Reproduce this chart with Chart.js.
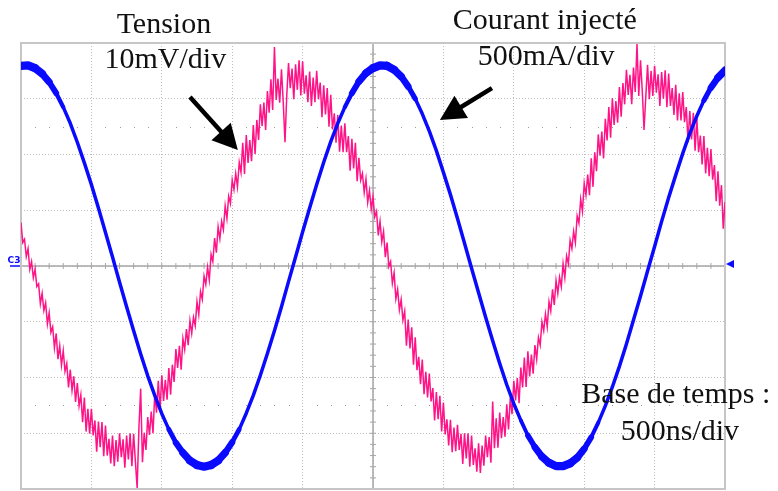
<!DOCTYPE html>
<html lang="fr">
<head>
<meta charset="utf-8">
<script src="https://cdn.jsdelivr.net/npm/chart.js@4.4.1/dist/chart.umd.min.js"></script>
<style>
  html, body { margin: 0; padding: 0; background: #fff; }
  #cadre { width: 778px; height: 491px; }
</style>
</head>
<body>
<div id="cadre"><canvas id="oscillo" width="778" height="491"></canvas></div>
<script>
// Capture d'oscilloscope : courant injecté (voie C3, bleu) et tension (rose)
// Les deux axes sont exprimés en divisions : 10 div en temps, 8 div en amplitude.
const nbDivX = 10;
const nbDivY = 4;              // de -4 à +4 div
const pasCourant = 0.1;        // div entre deux échantillons du courant
const pasTension = 0.025;      // div entre deux échantillons de la tension

const courant = [
  3.59, 3.60, 3.55, 3.45, 3.30, 3.10, 2.85, 2.56, 2.22, 1.85,
  1.46, 1.04, 0.60, 0.16, -0.29, -0.73, -1.16, -1.58, -1.97, -2.32,
  -2.65, -2.93, -3.17, -3.35, -3.49, -3.57, -3.60, -3.57, -3.49, -3.35,
  -3.16, -2.93, -2.64, -2.32, -1.96, -1.57, -1.16, -0.73, -0.28, 0.16,
  0.61, 1.04, 1.46, 1.86, 2.23, 2.56, 2.85, 3.10, 3.31, 3.46,
  3.55, 3.60, 3.59, 3.52, 3.40, 3.22, 3.00, 2.73, 2.42, 2.07,
  1.68, 1.28, 0.85, 0.41, -0.04, -0.48, -0.92, -1.34, -1.75, -2.13,
  -2.47, -2.77, -3.04, -3.25, -3.42, -3.53, -3.59, -3.59, -3.54, -3.44,
  -3.28, -3.07, -2.81, -2.51, -2.17, -1.80, -1.40, -0.97, -0.54, -0.09,
  0.35, 0.80, 1.23, 1.63, 2.02, 2.38, 2.69, 2.97, 3.20, 3.38,
  3.51
];

const tension = [
  0.78, 0.42, 0.48, 0.17, 0.31, -0.06, 0.08, -0.21, -0.06, -0.37,
  -0.32, -0.68, -0.49, -0.80, -0.66, -1.04, -0.84, -1.19, -1.09, -1.47,
  -1.21, -1.67, -1.43, -1.78, -1.52, -1.89, -1.75, -2.18, -1.86, -2.23,
  -1.98, -2.44, -2.10, -2.51, -2.31, -2.80, -2.36, -2.97, -2.56, -3.01,
  -2.56, -3.04, -2.77, -3.33, -2.79, -3.25, -2.80, -3.41, -2.86, -3.40,
  -3.10, -3.54, -3.04, -3.59, -3.12, -3.51, -3.00, -3.43, -3.11, -3.62,
  -3.04, -3.47, -3.00, -3.59, -3.01, -3.51, -3.98, -2.90, -2.20, -3.52,
  -2.99, -3.30, -2.71, -3.03, -2.61, -3.00, -2.29, -2.63, -2.06, -2.59,
  -1.96, -2.42, -2.04, -2.40, -1.83, -2.31, -1.77, -2.08, -1.49, -1.83,
  -1.43, -1.86, -1.30, -1.50, -1.13, -1.42, -0.98, -1.21, -0.92, -1.07,
  -0.64, -0.87, -0.46, -0.60, -0.18, -0.33, -0.02, -0.25, 0.21, 0.08,
  0.50, 0.24, 0.70, 0.49, 0.80, 0.65, 1.08, 0.85, 1.25, 1.12,
  1.54, 1.37, 1.66, 1.42, 1.86, 1.68, 2.21, 1.65, 2.35, 1.85,
  2.26, 1.88, 2.53, 2.01, 2.62, 2.26, 2.90, 2.51, 2.93, 2.44,
  3.14, 2.75, 3.35, 2.80, 3.93, 2.98, 3.36, 2.93, 3.53, 2.94,
  2.22, 3.06, 3.64, 3.19, 3.54, 2.99, 3.62, 3.16, 3.69, 3.06,
  3.67, 3.09, 3.42, 2.94, 3.49, 2.87, 3.38, 2.94, 3.50, 2.99,
  3.29, 2.67, 3.24, 2.72, 3.19, 2.50, 3.07, 2.45, 2.74, 2.21,
  2.71, 2.05, 2.52, 2.04, 2.56, 2.04, 2.33, 1.71, 2.28, 1.75,
  2.21, 1.52, 1.94, 1.54, 1.66, 1.32, 1.56, 1.14, 1.35, 1.02,
  1.24, 0.88, 0.98, 0.55, 0.80, 0.43, 0.62, 0.16, 0.42, -0.01,
  0.08, -0.31, -0.12, -0.59, -0.42, -0.79, -0.60, -0.97, -0.81, -1.43,
  -0.96, -1.48, -1.10, -1.77, -1.28, -1.87, -1.63, -2.12, -1.68, -2.30,
  -1.90, -2.36, -1.93, -2.43, -2.19, -2.77, -2.26, -2.75, -2.33, -2.97,
  -2.45, -3.02, -2.75, -3.22, -2.76, -3.34, -2.90, -3.32, -2.85, -3.30,
  -3.01, -3.55, -3.00, -3.45, -3.00, -3.60, -3.04, -3.57, -3.27, -3.69,
  -3.18, -3.71, -3.22, -3.58, -3.04, -3.43, -3.07, -3.53, -2.43, -3.27,
  -2.73, -3.26, -2.63, -3.09, -2.71, -3.06, -2.48, -2.93, -2.36, -2.66,
  -2.06, -2.41, -2.01, -2.46, -1.82, -2.18, -1.64, -2.17, -1.53, -1.98,
  -1.59, -1.93, -1.42, -1.67, -1.28, -1.42, -1.00, -1.16, -0.86, -1.09,
  -0.64, -0.81, -0.42, -0.70, -0.26, -0.49, -0.20, -0.37, 0.04, -0.21,
  0.18, 0.04, 0.46, 0.31, 0.62, 0.42, 0.90, 0.77, 1.20, 0.98,
  1.48, 1.27, 1.64, 1.27, 1.93, 1.42, 2.04, 1.70, 2.36, 1.98,
  2.41, 1.93, 2.64, 2.25, 2.85, 2.30, 3.01, 2.53, 2.96, 2.57,
  3.21, 2.68, 3.28, 2.90, 3.52, 3.07, 3.43, 2.90, 3.56, 3.12,
  3.98, 3.05, 3.69, 3.14, 2.44, 3.04, 3.61, 2.99, 3.50, 3.05,
  3.59, 3.11, 3.44, 2.87, 3.48, 3.00, 3.51, 2.85, 3.45, 2.87,
  3.19, 2.71, 3.25, 2.61, 3.10, 2.61, 3.12, 2.58, 2.85, 2.22,
  2.78, 2.27, 2.75, 2.07, 2.65, 2.04, 2.34, 1.82, 2.33, 1.66,
  2.12, 1.61, 2.10, 1.55, 1.81, 1.16, 1.70, 1.08, 1.45, 0.67,
  1.15
];

// Légendes écrites sur la capture (position en divisions)
const legendes = [
  { texte: 'Tension',          x: 2.03, y: 4.18 },
  { texte: '10mV/div',         x: 2.05, y: 3.55 },
  { texte: 'Courant injecté',  x: 7.44, y: 4.25 },
  { texte: '500mA/div',        x: 7.46, y: 3.61 },
  { texte: 'Base de temps :',  x: 9.30, y: -2.46 },
  { texte: '500ns/div',        x: 9.36, y: -3.12 }
];

// Flèches : départ -> pointe (en divisions)
const fleches = [
  { de: [2.40, 3.03], a: [3.08, 2.08] },
  { de: [6.69, 3.19], a: [5.95, 2.62] }
];

const BLEU = '#0a0aff';
const ROSE = 'rgb(255, 20, 135)';

function versPoints(valeurs, pas) {
  return valeurs.map((v, i) => ({ x: +(i * pas).toFixed(3), y: v }));
}

// Réticule, cadre, textes et repères de voie
const habillage = {
  id: 'habillage',
  beforeDatasetsDraw(chart) {
    const { ctx, chartArea: zone, scales: { x, y } } = chart;
    ctx.save();

    // rangées de points à ±2.5 div
    ctx.fillStyle = '#9a9a9a';
    [2.5, -2.5].forEach(v => {
      const py = Math.round(y.getPixelForValue(v));
      for (let k = 1; k < nbDivX * 5; k++) {
        if (k % 5 === 0) continue;
        ctx.fillRect(Math.round(x.getPixelForValue(k * 0.2)), py, 1, 1);
      }
    });

    // axes centraux gradués
    const cx = x.getPixelForValue(nbDivX / 2);
    const cy = y.getPixelForValue(0);
    ctx.strokeStyle = '#a6a6a6';
    ctx.lineWidth = 1.5;
    ctx.beginPath();
    ctx.moveTo(zone.left, cy); ctx.lineTo(zone.right, cy);
    ctx.moveTo(cx, zone.top); ctx.lineTo(cx, zone.bottom);
    ctx.stroke();

    ctx.lineWidth = 1;
    ctx.beginPath();
    for (let k = 1; k < nbDivX * 5; k++) {
      const px = x.getPixelForValue(k * 0.2);
      ctx.moveTo(px, cy - 3); ctx.lineTo(px, cy + 3);
    }
    for (let k = 1; k < nbDivY * 10; k++) {
      const py = y.getPixelForValue(-nbDivY + k * 0.2);
      ctx.moveTo(cx - 3, py); ctx.lineTo(cx + 3, py);
    }
    ctx.stroke();

    // cadre
    ctx.strokeStyle = '#c6c6c6';
    ctx.lineWidth = 2;
    ctx.strokeRect(zone.left, zone.top, zone.right - zone.left, zone.bottom - zone.top);
    ctx.restore();
  },
  afterDatasetsDraw(chart) {
    const { ctx, chartArea: zone, scales: { x, y } } = chart;
    ctx.save();

    // repère de voie C3 à gauche et marqueur de déclenchement à droite
    const cy = y.getPixelForValue(0);
    ctx.fillStyle = BLEU;
    ctx.strokeStyle = BLEU;
    ctx.font = 'bold 9px "DejaVu Sans", sans-serif';
    ctx.textAlign = 'center';
    ctx.textBaseline = 'alphabetic';
    ctx.fillText('C3', 14, cy - 3);
    ctx.lineWidth = 1.5;
    ctx.beginPath();
    ctx.moveTo(10, cy); ctx.lineTo(zone.left - 1, cy);
    ctx.stroke();

    ctx.beginPath();
    ctx.moveTo(zone.right + 1, cy - 2);
    ctx.lineTo(zone.right + 9, cy - 6);
    ctx.lineTo(zone.right + 9, cy + 2);
    ctx.closePath();
    ctx.fill();

    // flèches
    ctx.fillStyle = '#000';
    ctx.strokeStyle = '#000';
    fleches.forEach(f => {
      const x0 = x.getPixelForValue(f.de[0]), y0 = y.getPixelForValue(f.de[1]);
      const x1 = x.getPixelForValue(f.a[0]), y1 = y.getPixelForValue(f.a[1]);
      const ang = Math.atan2(y1 - y0, x1 - x0);
      const long = 25, demi = 13;
      const bx = x1 - long * Math.cos(ang), by = y1 - long * Math.sin(ang);
      ctx.lineWidth = 4.5;
      ctx.lineCap = 'butt';
      ctx.beginPath();
      ctx.moveTo(x0, y0); ctx.lineTo(bx + 3 * Math.cos(ang), by + 3 * Math.sin(ang));
      ctx.stroke();
      ctx.beginPath();
      ctx.moveTo(x1, y1);
      ctx.lineTo(bx + demi * Math.sin(ang), by - demi * Math.cos(ang));
      ctx.lineTo(bx - demi * Math.sin(ang), by + demi * Math.cos(ang));
      ctx.closePath();
      ctx.fill();
    });

    // textes
    ctx.fillStyle = '#111';
    ctx.font = '30px "Liberation Serif", "DejaVu Serif", serif';
    ctx.textAlign = 'center';
    ctx.textBaseline = 'alphabetic';
    legendes.forEach(l => {
      ctx.fillText(l.texte, x.getPixelForValue(l.x), y.getPixelForValue(l.y));
    });
    ctx.restore();
  }
};

const grille = {
  color: '#bdbdbd',
  lineWidth: 1,
  drawTicks: false
};

new Chart(document.getElementById('oscillo'), {
  type: 'line',
  data: {
    datasets: [
      {
        label: 'Courant injecté',
        data: versPoints(courant, pasCourant),
        borderColor: BLEU,
        borderWidth: 3.5,
        borderCapStyle: 'round',
        borderJoinStyle: 'round',
        pointRadius: 0,
        tension: 0,
        order: 0,
        segment: {
          // trace plus épaisse (bruit) aux sommets
          borderWidth: c => {
            const a = Math.max(Math.abs(c.p0.parsed.y), Math.abs(c.p1.parsed.y));
            return a > 3 ? 3.5 + (a - 3) * 8 : 3.5;
          }
        }
      },
      {
        label: 'Tension',
        data: versPoints(tension, pasTension),
        borderColor: ROSE,
        borderWidth: 1.5,
        pointRadius: 0,
        tension: 0,
        order: 1
      }
    ]
  },
  options: {
    responsive: false,
    animation: false,
    events: [],
    layout: { padding: { left: 21, right: 53, top: 43, bottom: 2 } },
    plugins: {
      legend: { display: false },
      tooltip: { enabled: false }
    },
    scales: {
      x: {
        type: 'linear',
        min: 0,
        max: nbDivX,
        ticks: { display: false, stepSize: 1 },
        grid: grille,
        border: { display: false, dash: [1, 2] }
      },
      y: {
        type: 'linear',
        min: -nbDivY,
        max: nbDivY,
        ticks: { display: false, stepSize: 1 },
        grid: grille,
        border: { display: false, dash: [1, 2] }
      }
    }
  },
  plugins: [habillage]
});
</script>
</body>
</html>
